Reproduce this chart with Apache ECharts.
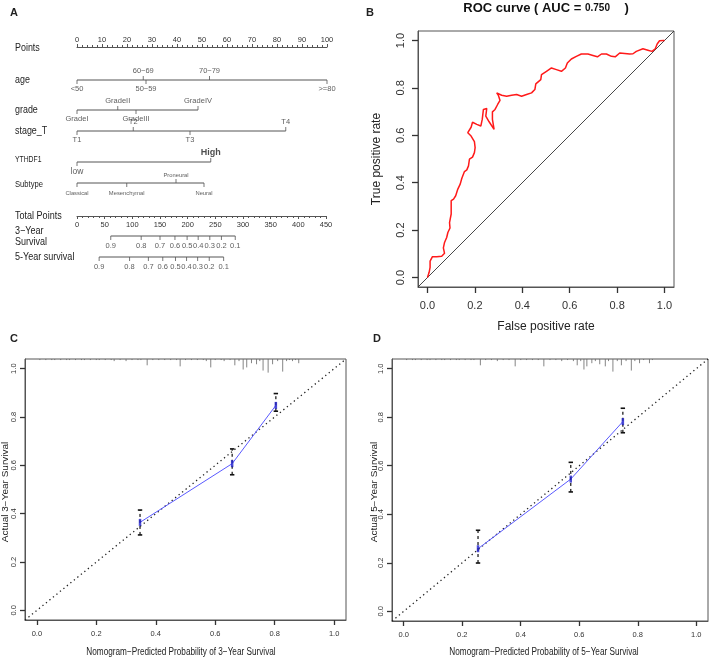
<!DOCTYPE html>
<html><head><meta charset="utf-8">
<script src="https://cdn.jsdelivr.net/npm/echarts@6/dist/echarts.min.js"></script>
<style>html,body{margin:0;padding:0;background:#fff}#c{width:709px;height:658px}</style>
</head><body><div id="c"></div>
<script>
// ===== Panel A: nomogram =====
const ageLevels   = ['<50', '50\u221259', '60\u221269', '70\u221279', '>=80'];
const agePoints   = [0, 27.6, 26.5, 53, 100];
const gradeLevels = ['GradeI', 'GradeII', 'GradeIII', 'GradeIV'];
const gradePoints = [0, 16.3, 23.6, 48.4];
const stageLevels = ['T1', 'T2', 'T3', 'T4'];
const stagePoints = [0, 22.5, 45.2, 83.5];
const ythdfLevels = ['low', 'High'];
const ythdfPoints = [0, 53.5];
const subtypeLevels = ['Classical', 'Mesenchymal', 'Proneural', 'Neural'];
const subtypePoints = [0, 19.9, 39.6, 50.8];
const survLabels  = ['0.9','0.8','0.7','0.6','0.5','0.4','0.3','0.2','0.1'];
const surv3Total  = [61, 116, 150, 177, 199, 219, 240, 261, 286];
const surv5Total  = [40, 95, 129, 155, 178, 198, 218, 239, 265];

// ===== Panel B: ROC =====
const rocFPR = [0,0.007,0.011,0.011,0.021,0.039,0.060,0.072,0.067,0.072,0.081,0.086,0.095,0.093,0.100,0.100,0.110,0.119,0.128,0.138,0.145,0.156,0.166,0.173,0.177,0.190,0.198,0.201,0.198,0.184,0.170,0.184,0.190,0.208,0.225,0.231,0.236,0.250,0.246,0.260,0.281,0.274,0.274,0.285,0.296,0.306,0.299,0.292,0.313,0.334,0.355,0.376,0.397,0.418,0.439,0.453,0.457,0.478,0.481,0.502,0.523,0.544,0.565,0.582,0.590,0.607,0.628,0.649,0.677,0.698,0.717,0.734,0.755,0.776,0.792,0.811,0.832,0.853,0.867,0.881,0.909,0.930,0.947,0.961,0.969,0.979,0.997,1.000];
const rocTPR = [0,0.022,0.043,0.069,0.088,0.088,0.090,0.102,0.125,0.148,0.169,0.190,0.209,0.232,0.268,0.324,0.331,0.345,0.373,0.394,0.419,0.447,0.454,0.471,0.499,0.508,0.527,0.548,0.573,0.597,0.611,0.634,0.655,0.646,0.639,0.667,0.709,0.713,0.681,0.657,0.625,0.667,0.699,0.709,0.730,0.747,0.769,0.779,0.769,0.765,0.769,0.772,0.765,0.772,0.779,0.793,0.817,0.835,0.856,0.870,0.884,0.877,0.870,0.884,0.905,0.922,0.933,0.943,0.943,0.937,0.931,0.943,0.943,0.933,0.931,0.947,0.945,0.943,0.944,0.954,0.965,0.959,0.954,0.965,0.985,0.999,1.000,1.000];
const rocAUC = '0.750';

// ===== Panel C: 3-year calibration =====
const c3Pred = [0.347, 0.657, 0.804];
const c3Obs  = [0.364, 0.607, 0.848];
const c3Lo   = [0.312, 0.561, 0.824];
const c3Hi   = [0.415, 0.668, 0.897];
const c3RugX = [0.01,0.03,0.05,0.06,0.08,0.10,0.11,0.13,0.15,0.16,0.18,0.20,0.21,0.23,0.25,0.26,0.28,0.30,0.32,0.34,0.35,0.371,0.39,0.41,0.43,0.45,0.47,0.482,0.50,0.52,0.54,0.56,0.57,0.585,0.60,0.62,0.63,0.65,0.666,0.68,0.694,0.706,0.722,0.739,0.75,0.761,0.778,0.793,0.81,0.827,0.84,0.85,0.86,0.87,0.881];
const c3RugN = [1,1,1,1,1,1,1,1,1,1,1,1,1,1,1,2,1,2,1,1,1,6,1,1,1,1,1,7,1,1,1,1,2,8,1,1,2,1,6,2,10,8,4,5,2,11,13,5,2,12,2,1,2,1,4];

// ===== Panel D: 5-year calibration =====
const c5Pred = [0.254, 0.571, 0.749];
const c5Obs  = [0.258, 0.545, 0.782];
const c5Lo   = [0.199, 0.492, 0.736];
const c5Hi   = [0.334, 0.614, 0.837];
const c5RugX = [0.01,0.03,0.04,0.06,0.08,0.09,0.11,0.13,0.14,0.16,0.18,0.19,0.21,0.23,0.24,0.262,0.28,0.30,0.32,0.34,0.36,0.381,0.40,0.42,0.44,0.46,0.479,0.50,0.52,0.54,0.56,0.58,0.593,0.605,0.616,0.626,0.643,0.655,0.670,0.689,0.70,0.715,0.73,0.744,0.76,0.778,0.79,0.806,0.82,0.840,0.85];
const c5RugN = [1,1,1,1,1,1,1,1,1,1,1,1,1,1,1,6,1,1,2,1,1,7,1,1,1,1,7,1,1,2,1,2,6,2,10,7,4,2,5,7,2,12,2,6,2,11,2,4,1,4,1];

// ===== layout =====
const FONT = "'Liberation Sans', Arial, sans-serif";
const NARROW = "'Liberation Sans Narrow', 'Liberation Sans', Arial, sans-serif";
const ROW = {age: 80, grade: 110, stage: 131, ythdf: 162, subtype: 183, s3: 236, s5: 257};
const GRAY = '#555';
const TICK = '#333';
const LO = -0.04, HI = 1.04;

function nomoVar(levels, points, sides, y, fontSize, extra) {
  const lo = Math.min(...points), hi = Math.max(...points);
  const line = {type: 'line', xAxisIndex: 0, yAxisIndex: 0, data: [[lo, y], [hi, y]], symbol: 'none', silent: true,
    lineStyle: {color: GRAY, width: 1}, animation: false};
  const ticks = {type: 'scatter', xAxisIndex: 0, yAxisIndex: 0, symbol: 'rect', symbolSize: [1, 4], silent: true,
    itemStyle: {color: GRAY}, animation: false,
    data: levels.map((name, i) => {
      const up = sides[i] === 'a';
      const e = (extra && extra[i]) || {};
      return {value: [points[i], y], symbolOffset: [0, up ? -2 : 2],
        label: Object.assign({show: true, formatter: name, position: up ? 'top' : 'bottom', distance: 1,
          fontSize: fontSize, fontFamily: FONT, color: '#333'}, e)};
    })};
  return [line, ticks];
}
function survAxis(labels, totals, y) {
  const line = {type: 'line', xAxisIndex: 3, yAxisIndex: 3, data: [[totals[0], y], [totals[totals.length - 1], y]],
    symbol: 'none', silent: true, lineStyle: {color: GRAY, width: 1}, animation: false};
  const ticks = {type: 'scatter', xAxisIndex: 3, yAxisIndex: 3, symbol: 'rect', symbolSize: [1, 4], silent: true,
    itemStyle: {color: GRAY}, animation: false,
    data: labels.map((l, i) => ({value: [totals[i], y], symbolOffset: [0, 2],
      label: {show: true, formatter: l, position: 'bottom', distance: 2, fontSize: 7.5, fontFamily: FONT, color: '#333'}}))};
  return [line, ticks];
}

// box axes: R-style outward ticks at 0, 0.2, ... 1.0 (auto interval on a -0.04..1.04 range)
function boxAxis(gi, tickLen, fontSize, fontFamily, margin, rotate) {
  return {gridIndex: gi, type: 'value', min: LO, max: HI, splitNumber: 5,
    axisLine: {show: true, onZero: false, lineStyle: {color: GRAY, width: 1}},
    axisTick: {show: true, length: tickLen, lineStyle: {color: TICK, width: 1.3}},
    splitLine: {show: false},
    axisLabel: {formatter: v => v.toFixed(1), showMinLabel: false, showMaxLabel: false,
      fontSize: fontSize, fontFamily: fontFamily, color: '#333', margin: margin, rotate: rotate || 0}};
}

function calSeries(ai, pred, obs, lo, hi, rugX, rugN) {
  return [
    {type: 'line', xAxisIndex: ai, yAxisIndex: ai, data: [[LO, LO], [HI, HI]], symbol: 'none', silent: true,
      lineStyle: {color: '#222', width: 1.3, type: [1.3, 3.2]}, animation: false},
    {type: 'custom', xAxisIndex: ai, yAxisIndex: ai, silent: true, animation: false,
      data: rugX.map((x, i) => [x, rugN[i]]),
      renderItem: (p, api) => {
        const top = api.coord([api.value(0), HI]);
        return {type: 'line', shape: {x1: top[0], y1: top[1], x2: top[0], y2: top[1] + api.value(1) * 1.05},
          style: {stroke: '#666', lineWidth: 0.8}};
      }},
    {type: 'line', xAxisIndex: ai, yAxisIndex: ai, data: pred.map((x, i) => [x, obs[i]]), symbol: 'none', silent: true,
      lineStyle: {color: '#5a5aff', width: 1}, animation: false, z: 3},
    {type: 'custom', xAxisIndex: ai, yAxisIndex: ai, silent: true, animation: false, z: 4,
      data: pred.map((x, i) => [x, lo[i], hi[i]]),
      encode: {x: 0, y: [1, 2]},
      renderItem: (p, api) => {
        const x = api.value(0);
        const a = api.coord([x, api.value(1)]);
        const b = api.coord([x, api.value(2)]);
        const w = 2.2;
        return {type: 'group', children: [
          {type: 'line', shape: {x1: a[0], y1: a[1], x2: b[0], y2: b[1]}, style: {stroke: '#111', lineWidth: 1.2, lineDash: [3, 3]}},
          {type: 'line', shape: {x1: b[0] - w, y1: b[1], x2: b[0] + w, y2: b[1]}, style: {stroke: '#111', lineWidth: 1.6}},
          {type: 'line', shape: {x1: a[0] - w, y1: a[1], x2: a[0] + w, y2: a[1]}, style: {stroke: '#111', lineWidth: 1.6}}
        ]};
      }},
    {type: 'scatter', xAxisIndex: ai, yAxisIndex: ai, data: pred.map((x, i) => [x, obs[i]]), symbol: 'rect',
      symbolSize: [2.5, 7], itemStyle: {color: '#2222cc'}, silent: true, animation: false, z: 5}
  ];
}

function txt(x, y, text, style, el) {
  return Object.assign({type: 'text', x: x, y: y, silent: true,
    style: Object.assign({text: text, fill: '#222', fontFamily: FONT, fontSize: 10, align: 'left', verticalAlign: 'middle'}, style || {})}, el || {});
}

const hiddenX = (gi, min, max) => ({gridIndex: gi, type: 'value', min: min, max: max, show: false});
const hiddenY = (gi, min, max, inv) => ({gridIndex: gi, type: 'value', min: min, max: max, show: false, inverse: !!inv});

const series = [].concat(
  nomoVar(ageLevels, agePoints, ['b','b','a','a','b'], ROW.age, 7.5),
  nomoVar(gradeLevels, gradePoints, ['b','a','b','a'], ROW.grade, 7.5),
  nomoVar(stageLevels, stagePoints, ['b','a','b','a'], ROW.stage, 7.5),
  nomoVar(ythdfLevels, ythdfPoints, ['b','a'], ROW.ythdf, 8,
    [{fontSize: 8.5}, {fontSize: 9, fontWeight: 'bold', color: '#222'}]),
  nomoVar(subtypeLevels, subtypePoints, ['b','b','a','b'], ROW.subtype, 5.8,
    [{distance: 3}, {distance: 3}, {distance: 1}, {distance: 3}]),
  survAxis(survLabels, surv3Total, ROW.s3),
  survAxis(survLabels, surv5Total, ROW.s5),
  [
    {type: 'line', xAxisIndex: 4, yAxisIndex: 4, data: [[LO, LO], [HI, HI]], symbol: 'none', silent: true,
      lineStyle: {color: '#333', width: 0.9}, animation: false},
    {type: 'line', xAxisIndex: 4, yAxisIndex: 4, data: rocFPR.map((x, i) => [x, rocTPR[i]]), symbol: 'none', silent: true,
      lineStyle: {color: '#ff1a1a', width: 1.5}, animation: false}
  ],
  calSeries(5, c3Pred, c3Obs, c3Lo, c3Hi, c3RugX, c3RugN),
  calSeries(6, c5Pred, c5Obs, c5Lo, c5Hi, c5RugX, c5RugN)
);

const graphics = [
  txt(10, 13, 'A', {fontSize: 11, fontWeight: 'bold'}),
  txt(366, 13, 'B', {fontSize: 11, fontWeight: 'bold'}),
  txt(10, 339, 'C', {fontSize: 11, fontWeight: 'bold'}),
  txt(373, 339, 'D', {fontSize: 11, fontWeight: 'bold'}),
  txt(15, 48, 'Points', {fontSize: 10.5}, {scaleX: 0.85}),
  txt(15, 80, 'age', {fontSize: 10.5}, {scaleX: 0.85}),
  txt(15, 110, 'grade', {fontSize: 10.5}, {scaleX: 0.85}),
  txt(15, 131, 'stage_T', {fontSize: 10.5}, {scaleX: 0.85}),
  txt(15, 160, 'YTHDF1', {fontSize: 8.5}, {scaleX: 0.8}),
  txt(15, 185, 'Subtype', {fontSize: 9}, {scaleX: 0.85}),
  txt(15, 216, 'Total Points', {fontSize: 10.5}, {scaleX: 0.86}),
  txt(15, 231, '3\u2212Year', {fontSize: 10.5}, {scaleX: 0.86}),
  txt(15, 242, 'Survival', {fontSize: 10.5}, {scaleX: 0.86}),
  txt(15, 257, '5-Year survival', {fontSize: 10.5}, {scaleX: 0.86}),
  txt(546, 8, '{a|ROC curve ( AUC = }{b|' + rocAUC + '}{a|    )}', {align: 'center', rich: {
    a: {fontSize: 13, fontWeight: 'bold', fontFamily: FONT, fill: '#111'},
    b: {fontSize: 10, fontWeight: 'bold', fontFamily: FONT, fill: '#111'}}}),
  txt(546, 327, 'False positive rate', {fontSize: 12, align: 'center'}),
  txt(377, 159, 'True positive rate', {fontSize: 12, align: 'center'}, {rotation: Math.PI / 2}),
  txt(181, 652, 'Nomogram\u2212Predicted Probability of 3\u2212Year Survival', {fontSize: 10, align: 'center'}, {scaleX: 0.82}),
  txt(6, 492, 'Actual 3\u2212Year Survival', {fontSize: 10, align: 'center'}, {rotation: Math.PI / 2, scaleY: 0.85}),
  txt(544, 652, 'Nomogram\u2212Predicted Probability of 5\u2212Year Survival', {fontSize: 10, align: 'center'}, {scaleX: 0.82}),
  txt(375, 492, 'Actual 5\u2212Year Survival', {fontSize: 10, align: 'center'}, {rotation: Math.PI / 2, scaleY: 0.85})
];

const NB = {outerBoundsMode: 'none', containLabel: false};
const option = {
  animation: false,
  backgroundColor: '#fff',
  grid: [
    Object.assign({left: 77, top: 0, width: 250, height: 300}, NB),
    Object.assign({left: 77, top: 47, width: 250, height: 10}, NB),
    Object.assign({left: 77, top: 206, width: 249, height: 10}, NB),
    Object.assign({left: 77, top: 0, width: 249, height: 300}, NB),
    Object.assign({left: 418, top: 31, width: 256, height: 256, show: true, borderColor: GRAY, borderWidth: 1}, NB),
    Object.assign({left: 25, top: 359, width: 321, height: 261, show: true, borderColor: GRAY, borderWidth: 1}, NB),
    Object.assign({left: 392, top: 359, width: 316, height: 262, show: true, borderColor: GRAY, borderWidth: 1}, NB)
  ],
  xAxis: [
    hiddenX(0, 0, 100),
    {gridIndex: 1, type: 'value', position: 'top', min: 0, max: 100, interval: 10,
      axisLine: {onZero: false, lineStyle: {color: GRAY}}, axisTick: {length: 3, lineStyle: {color: GRAY}},
      minorTick: {show: true, splitNumber: 5, length: 2, lineStyle: {color: GRAY}},
      axisLabel: {fontSize: 7.5, fontFamily: FONT, color: '#333', margin: 3}, splitLine: {show: false}},
    {gridIndex: 2, type: 'value', position: 'bottom', min: 0, max: 450, interval: 50,
      axisLine: {onZero: false, lineStyle: {color: GRAY}}, axisTick: {length: 3, lineStyle: {color: GRAY}},
      minorTick: {show: true, splitNumber: 5, length: 2, lineStyle: {color: GRAY}},
      axisLabel: {fontSize: 7.5, fontFamily: FONT, color: '#333', margin: 5}, splitLine: {show: false}},
    hiddenX(3, 0, 450),
    boxAxis(4, 6, 11, FONT, 13, 0),
    boxAxis(5, 5, 7.5, NARROW, 10, 0),
    boxAxis(6, 5, 7.5, NARROW, 10, 0)
  ],
  yAxis: [
    hiddenY(0, 0, 300, true),
    hiddenY(1, 0, 1),
    hiddenY(2, 0, 1),
    hiddenY(3, 0, 300, true),
    boxAxis(4, 6, 11, FONT, 12, 90),
    boxAxis(5, 5, 7.5, NARROW, 7, 90),
    boxAxis(6, 5, 7.5, NARROW, 7, 90)
  ],
  series: series,
  graphic: graphics
};

const chart = echarts.init(document.getElementById('c'), null, {renderer: 'canvas'});
chart.setOption(option);
</script>
</body></html>
